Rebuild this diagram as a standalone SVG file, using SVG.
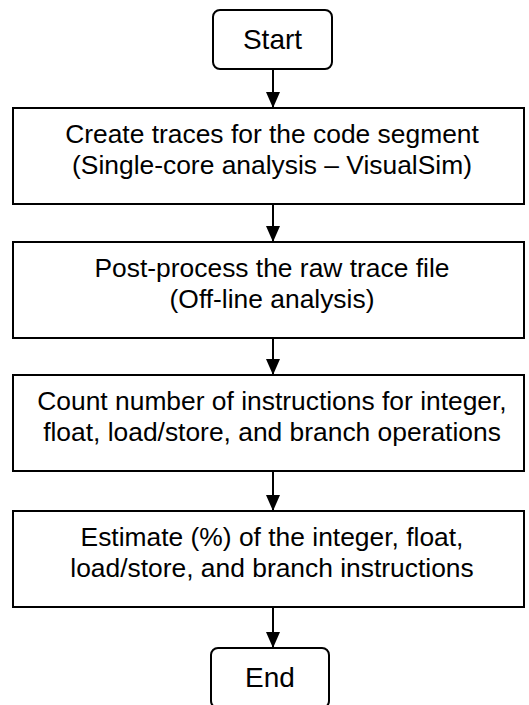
<svg xmlns="http://www.w3.org/2000/svg" width="529" height="705" viewBox="0 0 529 705">
<style>
.box{fill:#fff;stroke:#000;stroke-width:2}
.t{font-family:"Liberation Sans",Arial,sans-serif;font-size:26.4px;fill:#000;text-anchor:middle}
.tt{font-family:"Liberation Sans",Arial,sans-serif;font-size:28px;fill:#000;text-anchor:middle}
.c{stroke:#000;stroke-width:2;fill:none;marker-end:url(#ah)}
</style>
<defs>
<marker id="ah" markerUnits="userSpaceOnUse" markerWidth="16" markerHeight="14" refX="16" refY="7" orient="auto">
<path d="M0,0 L16,7 L0,14 Z" fill="#000"/>
</marker>
</defs>
<rect width="529" height="705" fill="#fff"/>
<g id="connectors">
<line class="c" x1="273" y1="69" x2="273" y2="108"/>
<line class="c" x1="273" y1="204" x2="273" y2="242"/>
<line class="c" x1="273" y1="338" x2="273" y2="375"/>
<line class="c" x1="273" y1="471" x2="273" y2="511"/>
<line class="c" x1="273" y1="607" x2="273" y2="648"/>
</g>
<g id="start">
<rect class="box" x="213" y="10" width="119" height="59" rx="7"/>
<text class="tt" x="272.5" y="49">Start</text>
</g>
<g id="create-traces">
<rect class="box" x="13" y="108" width="511" height="96"/>
<text class="t" x="272" y="143">Create traces for the code segment</text>
<text class="t" x="272" y="174">(Single-core analysis – VisualSim)</text>
</g>
<g id="post-process">
<rect class="box" x="13" y="242" width="511" height="96"/>
<text class="t" x="272" y="277">Post-process the raw trace file</text>
<text class="t" x="272" y="308">(Off-line analysis)</text>
</g>
<g id="count">
<rect class="box" x="13" y="375" width="511" height="96"/>
<text class="t" x="272" y="410">Count number of instructions for integer,</text>
<text class="t" x="272" y="441">float, load/store, and branch operations</text>
</g>
<g id="estimate">
<rect class="box" x="13" y="511" width="511" height="96"/>
<text class="t" x="272" y="546">Estimate (%) of the integer, float,</text>
<text class="t" x="272" y="577">load/store, and branch instructions</text>
</g>
<g id="end">
<rect class="box" x="211" y="648" width="118" height="60" rx="7"/>
<text class="tt" x="270" y="687">End</text>
</g>
</svg>
